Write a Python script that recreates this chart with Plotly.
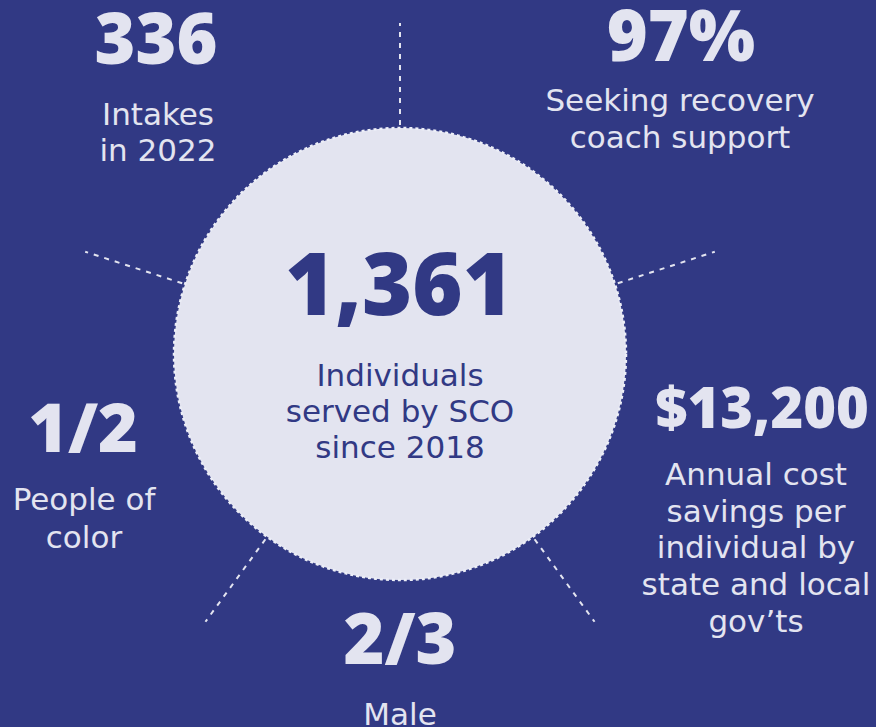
import numpy as np
import plotly.graph_objects as go

# ---- data ----
center_value = "1,361"
center_label = ["Individuals", "served by SCO", "since 2018"]

stat_values = ["336", "97%", "$13,200", "2/3", "1/2"]
stat_labels = [
    ["Intakes", "in 2022"],
    ["Seeking recovery", "coach support"],
    ["Annual cost", "savings per", "individual by", "state and local", "gov’ts"],
    ["Male"],
    ["People of", "color"],
]
spoke_angles_deg = [90, 18, -54, -126, 162]

# ---- layout constants (pixel space) ----
W, H = 876, 727
BG = "#313984"
LIGHT = "#e3e4f0"
CX, CY, R = 400, 354, 226
R_IN, R_OUT = 229, 331

# value x, value baseline, value size, label x, label first baseline, label spacing
stat_pos = [
    (156, 65, 70, 158, 122, 36),
    (681, 62, 70, 680, 108, 37),
    (762, 428, 56, 756, 482, 36.7),
    (400, 665, 70, 400, 722, 36),
    (83, 453, 68, 84, 507, 38),
]
LABEL_SIZE = 31
NUM_FONT = "Open Sans"
LBL_FONT = "DejaVu Sans"

def mid(baseline, size):
    return baseline - 0.35 * size + 6

fig = go.Figure()

# spokes
for a in spoke_angles_deg:
    t = np.deg2rad(a)
    xs = [CX + R_IN * np.cos(t), CX + R_OUT * np.cos(t)]
    ys = [CY - R_IN * np.sin(t), CY - R_OUT * np.sin(t)]
    fig.add_trace(go.Scatter(x=xs, y=ys, mode="lines",
                             line=dict(color=LIGHT, width=2, dash="5px,6px"),
                             hoverinfo="skip", showlegend=False))

# stat values
vx, vy, vs = [], [], []
for v, (x, b, s, lx, lb, sp) in zip(stat_values, stat_pos):
    vx.append(x); vy.append(mid(b, s)); vs.append(s)
fig.add_trace(go.Scatter(x=vx, y=vy, mode="text", text=stat_values,
                         textposition="middle center",
                         textfont=dict(family=NUM_FONT, size=vs, color=LIGHT, weight=800),
                         hoverinfo="skip", showlegend=False))

# stat labels
lx_all, ly_all, lt_all = [], [], []
for lines, (x, b, s, lx, lb, sp) in zip(stat_labels, stat_pos):
    for i, ln in enumerate(lines):
        lx_all.append(lx); ly_all.append(mid(lb + i * sp, LABEL_SIZE)); lt_all.append(ln)
fig.add_trace(go.Scatter(x=lx_all, y=ly_all, mode="text", text=lt_all,
                         textposition="middle center",
                         textfont=dict(family=LBL_FONT, size=LABEL_SIZE, color=LIGHT),
                         hoverinfo="skip", showlegend=False))

# center
fig.add_trace(go.Scatter(x=[399], y=[mid(318, 86)], mode="text", text=[center_value],
                         textposition="middle center",
                         textfont=dict(family=NUM_FONT, size=86, color=BG, weight=800),
                         hoverinfo="skip", showlegend=False))
cb = [383, 419, 455]
fig.add_trace(go.Scatter(x=[400] * len(center_label), y=[mid(b, LABEL_SIZE) for b in cb],
                         mode="text", text=center_label, textposition="middle center",
                         textfont=dict(family=LBL_FONT, size=LABEL_SIZE, color=BG),
                         hoverinfo="skip", showlegend=False))

fig.add_shape(type="circle", xref="x", yref="y",
              x0=CX - R, x1=CX + R, y0=CY - R, y1=CY + R,
              fillcolor=LIGHT, line=dict(color="#eceef7", width=2.5, dash="dot"),
              layer="below")

fig.update_layout(
    width=W, height=H, margin=dict(l=0, r=0, t=0, b=0),
    paper_bgcolor=BG, plot_bgcolor=BG, showlegend=False,
    xaxis=dict(range=[0, W], visible=False, fixedrange=True),
    yaxis=dict(range=[H, 0], visible=False, fixedrange=True),
)
fig.write_html("out.html", config={"displayModeBar": False})

# remove default page margin so the figure fills the window
with open("out.html", encoding="utf-8") as f:
    html = f.read()
html = html.replace("<head>", "<head><style>html,body{margin:0;padding:0;overflow:hidden;background:%s}</style>" % BG, 1)
with open("out.html", "w", encoding="utf-8") as f:
    f.write(html)
